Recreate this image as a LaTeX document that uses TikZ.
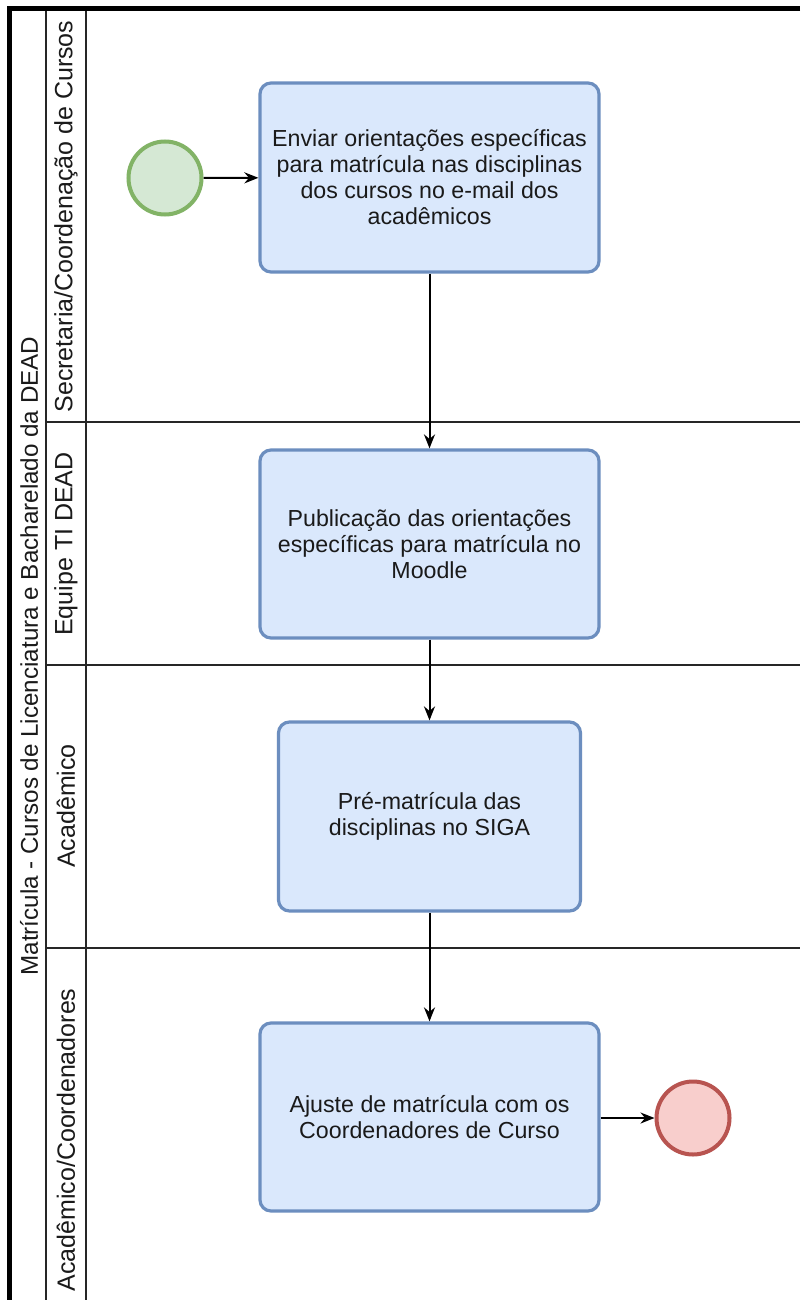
\documentclass[tikz,border=0pt]{standalone}
\usepackage{fontspec}
\setmainfont{Liberation Sans}
\usetikzlibrary{arrows.meta}
\definecolor{boxfill}{HTML}{DAE8FC}
\definecolor{boxdraw}{HTML}{6C8EBF}
\definecolor{startfill}{HTML}{D5E8D4}
\definecolor{startdraw}{HTML}{82B366}
\definecolor{endfill}{HTML}{F8CECC}
\definecolor{enddraw}{HTML}{B85450}
\definecolor{txt}{HTML}{1A1A1A}
\tikzset{
  task/.style={draw=boxdraw, fill=boxfill, line width=3.2pt, rounded corners=11pt,
    align=center, text=txt, inner sep=0pt,
    font=\fontsize{23.2}{26}\selectfont},
  startev/.style={circle, draw=startdraw, fill=startfill, line width=4pt, minimum size=73pt, inner sep=0pt},
  endev/.style={circle, draw=enddraw, fill=endfill, line width=4pt, minimum size=73pt, inner sep=0pt},
  flow/.style={line width=2pt, -{Stealth[length=14pt,width=11pt]}},
  lanelabel/.style={rotate=90, font=\fontsize{25}{28}\selectfont, text=txt},
  poollabel/.style={rotate=90, font=\fontsize{24.2}{28}\selectfont, text=txt},
  sep/.style={line width=2pt, black!85}
}
\begin{document}
\begin{tikzpicture}[x=1pt,y=-1pt]
\useasboundingbox (0,0) rectangle (800,1300);
\fill[white] (0,0) rectangle (800,1300);
% pool borders
\draw[line width=5pt] (800,8.5) -- (9.5,8.5) -- (9.5,1300);
\draw[sep] (46,11) -- (46,1300);
\draw[sep] (86,11) -- (86,1300);
\draw[sep] (46,422) -- (800,422);
\draw[sep] (46,665) -- (800,665);
\draw[sep] (46,948) -- (800,948);
% labels
\node[poollabel] (pool) at (29,656) {Matrícula - Cursos de Licenciatura e Bacharelado da DEAD};
\node[lanelabel] (l1) at (66,216.5) {Secretaria/Coordenação de Cursos};
\node[lanelabel] (l2) at (66,544) {Equipe TI DEAD};
\node[lanelabel] (l3) at (66,806) {Acadêmico};
\node[lanelabel] (l4) at (66,1140) {Acadêmico/Coordenadores};
% tasks
\node[task, minimum width=339pt, minimum height=189pt] (t1) at (429.5,177.5)
  {Enviar orientações específicas\\para matrícula nas disciplinas\\dos cursos no e-mail dos\\acadêmicos};
\node[task, minimum width=339pt, minimum height=188pt] (t2) at (429.5,544)
  {Publicação das orientações\\específicas para matrícula no\\Moodle};
\node[task, minimum width=302pt, minimum height=189pt] (t3) at (429.5,816.5)
  {Pré-matrícula das\\disciplinas no SIGA};
\node[task, minimum width=339pt, minimum height=188pt] (t4) at (429.5,1117)
  {Ajuste de matrícula com os\\Coordenadores de Curso};
% events
\node[startev] (s) at (165,178) {};
\node[endev] (e) at (693,1118) {};
% flows
\draw[flow] (s) -- (t1);
\draw[flow] (t1) -- (t2);
\draw[flow] (t2) -- (t3);
\draw[flow] (t3) -- (t4);
\draw[flow] (t4.east |- e) -- (e);
\end{tikzpicture}
\end{document}
